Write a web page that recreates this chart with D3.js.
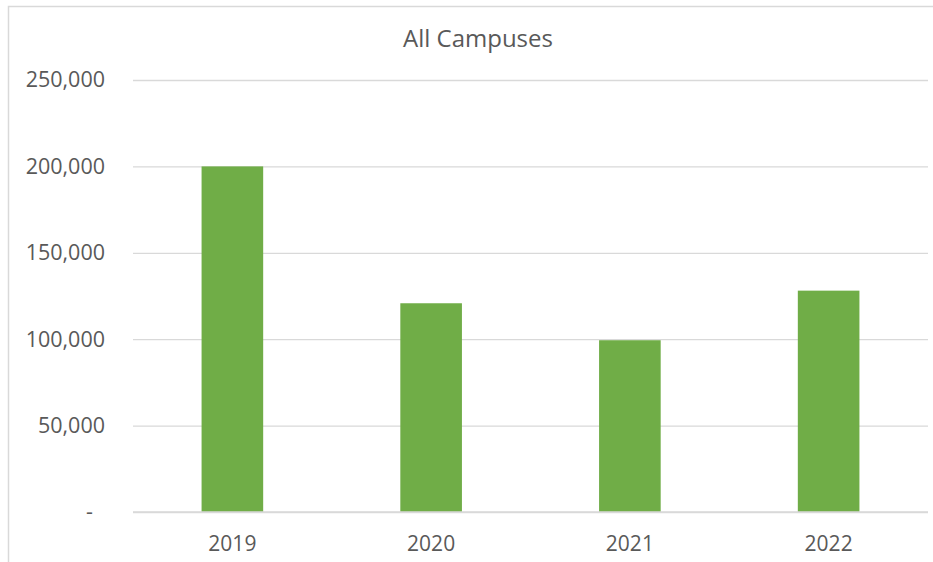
<!DOCTYPE html>
<html>
<head>
<meta charset="utf-8">
<script src="https://cdn.jsdelivr.net/npm/d3@7"></script>
<style>
  body { margin: 0; background: #fff; }
  svg { display: block; font-family: 'Open Sans', 'Liberation Sans', sans-serif; }
</style>
</head>
<body>
<svg></svg>
<script>
// Data
const years = ['2019', '2020', '2021', '2022'];
const totals = [200000, 120800, 99400, 128100];
const yTicks = [0, 50000, 100000, 150000, 200000, 250000];

// Constants
const width = 933;
const height = 562;
const plotLeft = 133;
const plotRight = 928;
const plotTop = 80;
const plotBottom = 512;

const textColor = '#595959';
const gridColor = '#d9d9d9';
const barColor = '#70ad47';

const svg = d3.select('svg')
    .attr('width', width)
    .attr('height', height);

// chart border (right and bottom fall outside the picture)
svg.append('rect')
    .attr('x', 8.5)
    .attr('y', 6.5)
    .attr('width', 960)
    .attr('height', 600)
    .attr('fill', 'none')
    .attr('stroke', gridColor)
    .attr('stroke-width', 1.5);

// title
svg.append('text')
    .attr('x', 478)
    .attr('y', 47)
    .attr('text-anchor', 'middle')
    .attr('fill', textColor)
    .style('font-size', '24px')
    .text('All Campuses');

// scales
const xScale = d3.scaleBand()
    .domain(years)
    .range([plotLeft, plotRight])
    .paddingInner(0.69)
    .paddingOuter(0.345);

const yScale = d3.scaleLinear()
    .domain([0, 250000])
    .range([plotBottom, plotTop]);

// yAxis + gridlines
const yAxis = d3.axisLeft(yScale)
    .tickValues(yTicks)
    .tickSize(-(plotRight - plotLeft))
    .tickPadding(28)
    .tickFormat(d => d === 0 ? '-' : d3.format(',')(d));

const yG = svg.append('g')
    .attr('transform', `translate(${plotLeft}, 0)`)
    .call(yAxis);

yG.select('.domain').remove();
yG.selectAll('.tick line')
    .attr('stroke', gridColor)
    .attr('stroke-width', 1.3);
yG.selectAll('.tick text')
    .attr('fill', textColor)
    .style('font-size', '21.5px')
    .style('font-family', "'Open Sans', 'Liberation Sans', sans-serif")
    .attr('dx', d => d === 0 ? -12 : 0);

// bars
svg.selectAll('rect.bar')
    .data(years).enter()
    .append('rect')
    .attr('class', 'bar')
    .attr('x', d => xScale(d))
    .attr('width', xScale.bandwidth())
    .attr('y', (d, i) => yScale(totals[i]))
    .attr('height', (d, i) => plotBottom - yScale(totals[i]))
    .attr('fill', barColor);

// baseline drawn over bars
svg.append('line')
    .attr('x1', plotLeft)
    .attr('x2', plotRight)
    .attr('y1', plotBottom)
    .attr('y2', plotBottom)
    .attr('stroke', gridColor)
    .attr('stroke-width', 1.3);

// xAxis labels
const xAxis = d3.axisBottom(xScale)
    .tickSize(0)
    .tickPadding(24);

const xG = svg.append('g')
    .attr('transform', `translate(0, ${plotBottom})`)
    .call(xAxis);

xG.select('.domain').remove();
xG.selectAll('.tick text')
    .attr('fill', textColor)
    .style('font-size', '21px')
    .style('font-family', "'Open Sans', 'Liberation Sans', sans-serif");
</script>
</body>
</html>
